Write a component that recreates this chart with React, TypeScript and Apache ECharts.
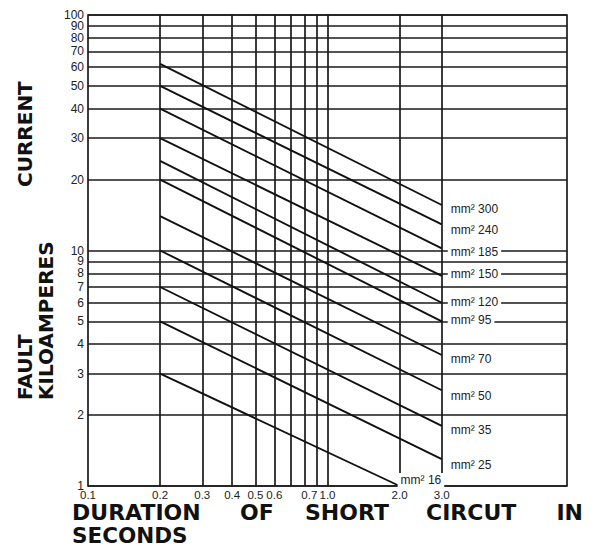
import React, { useEffect, useRef } from "react";
import * as echarts from "echarts";

// ---- data ----
const cableSizes = [300, 240, 185, 150, 120, 95, 70, 50, 35, 25, 16];
const startTimes = [0.2, 0.2, 0.2, 0.2, 0.2, 0.2, 0.2, 0.2, 0.2, 0.2, 0.2];
const startCurrents = [62, 50, 40, 30, 24, 20, 14, 10, 7, 5, 3];
const endTimes = [3, 3, 3, 3, 3, 3, 3, 3, 3, 3, 2];
const endCurrents = [15.6, 12.9, 10.2, 7.8, 6.0, 5.0, 3.6, 2.55, 1.8, 1.3, 1.0];

const xGridValues = [0.2, 0.3, 0.4, 0.5, 0.6, 0.7, 0.8, 0.9, 1, 2, 3];
const xTickValues = [0.1, 0.2, 0.3, 0.4, 0.5, 0.6, 0.84, 1, 2, 3];
const xTickLabels = ["0.1", "0.2", "0.3", "0.4", "0.5", "0.6", "0.7", "1.0", "2.0", "3.0"];
const yGridValues = [1, 2, 3, 4, 5, 6, 7, 8, 9, 10, 20, 30, 40, 50, 60, 70, 80, 90, 100];
const yTickLabels = ["1", "2", "3", "4", "5", "6", "7", "8", "9", "10", "20", "30", "40", "50", "60", "70", "80", "90", "100"];

// ---- styles (label nudges, px) ----
const labelDy = [4, 6, 3.5, -2, -1, -1, 4, 6, 4, 6, -6];
const labelDx = [0, 0, 0, 0, 0, 0, 0, 0, 0, 0, -8];

const INK = "#1a1a1a";
const LABEL_FONT = "Liberation Sans, Arial, Helvetica, sans-serif";
const TITLE_FONT = "DejaVu Sans, sans-serif";

export default function App() {
  const ref = useRef<HTMLDivElement>(null);

  useEffect(() => {
    if (!ref.current) return;
    const chart = echarts.init(ref.current, null, { renderer: "svg" });

    const cableSeries = cableSizes.map((size, i) => ({
      type: "line",
      name: `mm² ${size}`,
      z: 4,
      silent: true,
      symbol: "none",
      data: [
        [startTimes[i], startCurrents[i]],
        [endTimes[i], endCurrents[i]],
      ],
      lineStyle: { color: "#111", width: 1.9 },
      endLabel: {
        show: true,
        formatter: `mm² ${size}`,
        distance: 6,
        offset: [labelDx[i], labelDy[i]],
        backgroundColor: "#fff",
        padding: [1, 3, 1, 3],
        color: "#222",
        fontSize: 12,
        fontFamily: LABEL_FONT,
      },
    }));

    const xLines = [
      ...xGridValues.map((v) => ({ xAxis: v, label: { show: false } })),
      ...xTickValues.map((v, i) => ({
        xAxis: v,
        lineStyle: { color: "rgba(0,0,0,0)", width: 0 },
        label: {
          show: true,
          formatter: xTickLabels[i],
          position: "start",
          distance: 3,
          fontSize: 11.5,
          lineHeight: 11,
          color: "#222",
        },
      })),
    ];
    const yLines = yGridValues.map((v, i) => ({
      yAxis: v,
      label: { show: true, formatter: yTickLabels[i] },
    }));

    const gridSeries = {
      type: "line",
      silent: true,
      z: 1,
      symbol: "none",
      data: [],
      markLine: {
        silent: true,
        z: 1,
        animation: false,
        symbol: ["none", "none"],
        lineStyle: { color: INK, width: 1.7, type: "solid" },
        label: {
          position: "start",
          distance: 4,
          color: "#222",
          fontSize: 12,
          lineHeight: 10,
          fontFamily: LABEL_FONT,
        },
        emphasis: { disabled: true },
        data: [...xLines, ...yLines],
      },
    };

    const titleStyle = (text: string, size: number, lh: number) => ({
      text,
      fill: "#111",
      fontSize: size,
      fontWeight: "bold",
      fontFamily: TITLE_FONT,
      lineHeight: lh,
    });

    const option = {
      animation: false,
      grid: {
        left: 88,
        right: 27,
        top: 15,
        bottom: 60,
        show: true,
        borderColor: INK,
        borderWidth: 1.7,
        backgroundColor: "#fff",
      },
      xAxis: {
        type: "log",
        logBase: 10,
        min: 0.1,
        max: 10,
        axisLine: { show: false },
        axisTick: { show: false },
        axisLabel: { show: false },
        splitLine: { show: false },
      },
      yAxis: {
        type: "log",
        logBase: 10,
        min: 1,
        max: 100,
        axisLine: { show: false },
        axisTick: { show: false },
        axisLabel: { show: false },
        splitLine: { show: false },
      },
      graphic: [
        { type: "text", x: 25, y: 187, rotation: Math.PI / 2, style: { ...titleStyle("CURRENT", 20, 17), align: "left", verticalAlign: "middle" } },
        { type: "text", x: 25, y: 400, rotation: Math.PI / 2, style: { ...titleStyle("FAULT", 20, 17), align: "left", verticalAlign: "middle" } },
        { type: "text", x: 46, y: 400, rotation: Math.PI / 2, style: { ...titleStyle("KILOAMPERES", 20, 17), align: "left", verticalAlign: "middle" } },
        { type: "text", x: 72, y: 512, style: { ...titleStyle("DURATION", 22, 18), align: "left", verticalAlign: "middle" } },
        { type: "text", x: 240, y: 512, style: { ...titleStyle("OF", 22, 18), align: "left", verticalAlign: "middle" } },
        { type: "text", x: 305, y: 512, style: { ...titleStyle("SHORT", 22, 18), align: "left", verticalAlign: "middle" } },
        { type: "text", x: 426, y: 512, style: { ...titleStyle("CIRCUT", 22, 18), align: "left", verticalAlign: "middle" } },
        { type: "text", x: 583, y: 512, style: { ...titleStyle("IN", 22, 18), align: "right", verticalAlign: "middle" } },
        { type: "text", x: 72, y: 535, style: { ...titleStyle("SECONDS", 21.5, 16), align: "left", verticalAlign: "middle" } },
      ],
      series: [gridSeries, ...cableSeries],
    };

    chart.setOption(option as any);
    return () => chart.dispose();
  }, []);

  return (
    <div
      ref={ref}
      style={{ position: "absolute", left: 0, top: 0, width: 594, height: 546, background: "#fff" }}
    />
  );
}
